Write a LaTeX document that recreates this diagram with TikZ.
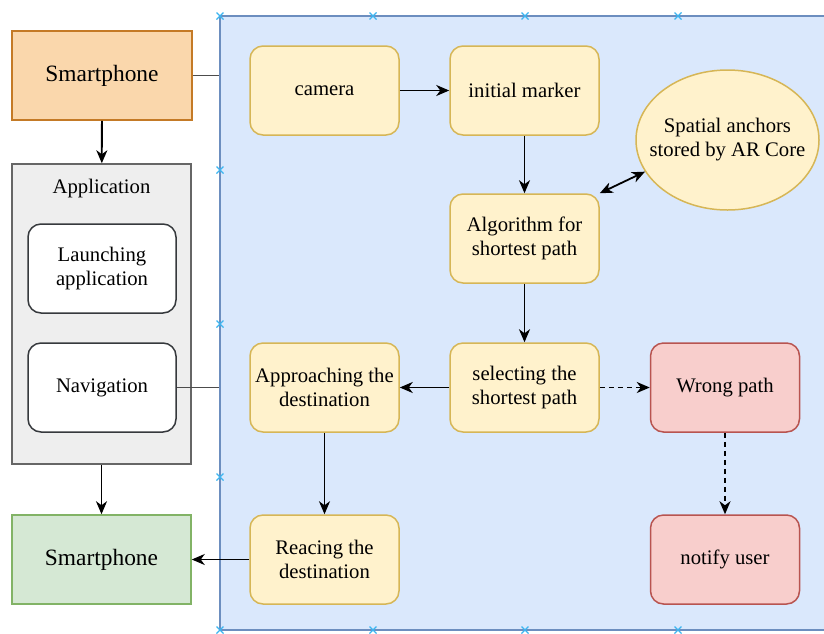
\documentclass[tikz,border=0pt]{standalone}
\usepackage{fontspec}
\setmainfont{Liberation Serif}
\usepackage{tikz}
\usetikzlibrary{arrows.meta,shapes.geometric}
\usetikzlibrary{positioning}
\usepackage{xcolor}
\definecolor{panelfill}{HTML}{DAE8FC}
\definecolor{panelline}{HTML}{6C8EBF}
\definecolor{handleblue}{HTML}{3BB5F0}
\definecolor{stepfill}{HTML}{FFF2CC}
\definecolor{stepline}{HTML}{D6B656}
\definecolor{warnfill}{HTML}{F8CECC}
\definecolor{warnline}{HTML}{B85450}
\definecolor{orangefill}{HTML}{FAD7AC}
\definecolor{orangeline}{HTML}{C47A26}
\definecolor{greenfill}{HTML}{D5E8D4}
\definecolor{greenline}{HTML}{82B366}
\definecolor{groupfill}{HTML}{EEEEEE}
\definecolor{groupline}{HTML}{666666}
\definecolor{darkline}{HTML}{36393D}
\tikzstyle{flow}=[
  x=1pt,y=-1pt,>={Stealth[length=13pt,width=11pt,inset=4pt]},font=\fontsize{20.7}{24}\selectfont
]
\tikzstyle{panel}=[
  draw=panelline,fill=panelfill,line width=1.5pt,inner sep=0pt,minimum width=610pt,minimum height=614pt
]
\tikzstyle{handle}=[
  draw=handleblue,line width=1.3pt
]
\tikzstyle{boxnode}=[
  rectangle,inner sep=2pt,line width=1.5pt,align=center,minimum width=149pt,minimum height=89pt
]
\tikzstyle{stepnode}=[
  boxnode,draw=stepline,fill=stepfill,rounded corners=13pt
]
\tikzstyle{warnnode}=[
  boxnode,draw=warnline,fill=warnfill,rounded corners=13pt
]
\tikzstyle{appnode}=[
  boxnode,draw=darkline,fill=white,rounded corners=13pt,minimum width=148pt
]
\tikzstyle{phonenode}=[
  boxnode,minimum width=179pt,font=\fontsize{23.4}{27}\selectfont
]
\tikzstyle{anchornode}=[
  ellipse,draw=stepline,fill=stepfill,line width=1.5pt,inner xsep=-14pt,inner ysep=0pt,align=center,minimum width=183pt,minimum height=140pt
]
\tikzstyle{arcedge}=[
  ->,line width=1.8pt
]
\tikzstyle{plainedge}=[
  line width=1.8pt,draw=black!70
]
\tikzstyle{dashedge}=[
  ->,line width=1.8pt,dash pattern=on 5pt off 4pt
]

\begin{document}
\begin{tikzpicture}[flow]
    \useasboundingbox (0,0) rectangle (824,633);
    % background panel and its handles
    \node (panel) [panel] at (525,323) {};
    \foreach \hx in {220,373,525,678} {
      \draw [handle] (\hx,16) +(-3.5,-3.5) -- +(3.5,3.5) +(-3.5,3.5) -- +(3.5,-3.5);
      \draw [handle] (\hx,630) +(-3.5,-3.5) -- +(3.5,3.5) +(-3.5,3.5) -- +(3.5,-3.5);
    }
    \foreach \hy in {170,324,477} {
      \draw [handle] (220,\hy) +(-3.5,-3.5) -- +(3.5,3.5) +(-3.5,3.5) -- +(3.5,-3.5);
    }
    % left column
    \node (phone1) [phonenode,draw=orangeline,fill=orangefill,minimum width=180pt] at (102,75.5) {Smartphone};
    \node (app) [boxnode,draw=groupline,fill=groupfill,minimum width=179pt,minimum height=300pt] at (101.5,314) {};
    \node (apptitle) at (101.5,189) {Application};
    \node (launch) [appnode] at (102,268.5) {Launching\\application};
    \node (nav) [appnode] at (102,387.5) {Navigation};
    \node (phone2) [phonenode,draw=greenline,fill=greenfill] at (101.5,559.5) {Smartphone};
    % steps
    \node (camera) [stepnode] at (324.5,90.5) {camera};
    \node (marker) [stepnode] at (524.5,90.5) {initial marker};
    \node (algo) [stepnode] at (524.5,238.5) {Algorithm for\\shortest path};
    \node (anchors) [anchornode] at (727.5,140) {Spatial anchors\\stored by AR Core};
    \node (sel) [stepnode] at (524.5,387.5) {selecting the\\shortest path};
    \node (appr) [stepnode] at (324.5,387.5) {Approaching the\\destination};
    \node (reach) [stepnode] at (324.5,559.5) {Reacing the\\destination};
    \node (wrong) [warnnode] at (725,387.5) {Wrong path};
    \node (notify) [warnnode] at (725,559.5) {notify user};
    % connectors
    \draw [plainedge] (phone1.east) -- (phone1.east -| panel.west);
    \draw [plainedge] (nav.east) -- (nav.east -| panel.west);
    \draw [arcedge] (phone1) -- (app);
    \draw [arcedge] (app) -- (phone2);
    \draw [arcedge] (camera) -- (marker);
    \draw [arcedge] (marker) -- (algo);
    \draw [arcedge,<->] (algo.north east) -- (anchors.201);
    \draw [arcedge] (algo) -- (sel);
    \draw [arcedge] (sel) -- (appr);
    \draw [dashedge] (sel) -- (wrong);
    \draw [dashedge] (wrong) -- (notify);
    \draw [arcedge] (appr) -- (reach);
    \draw [arcedge] (reach) -- (phone2);
\end{tikzpicture}
\end{document}
